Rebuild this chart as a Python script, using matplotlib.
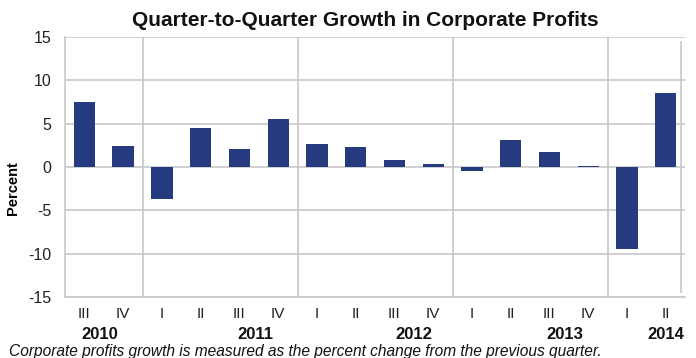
import matplotlib.pyplot as plt
import numpy as np

plt.rcParams['font.family'] = ['Liberation Sans', 'DejaVu Sans']
plt.rcParams['axes.unicode_minus'] = False

quarters = ['III', 'IV', 'I', 'II', 'III', 'IV', 'I', 'II', 'III', 'IV',
            'I', 'II', 'III', 'IV', 'I', 'II']
growth = [7.5, 2.4, -3.7, 4.5, 2.1, 5.5, 2.6, 2.3, 0.8, 0.35,
          -0.45, 3.1, 1.75, 0.15, -9.4, 8.5]
years = ['2010', '2011', '2012', '2013', '2014']
year_pos = [0.4, 4.4, 8.5, 12.4, 15.0]
year_breaks = [1.5, 5.5, 9.5, 13.5]

bar_color = '#263a80'
grid_color = '#c8c8c8'

fig = plt.figure(figsize=(6.96, 3.58), dpi=100)
ax = fig.add_axes([0.0934, 0.170, 0.891, 0.727])

x = np.arange(len(growth))
ax.bar(x, growth, width=0.55, color=bar_color, zorder=3)

ax.set_xlim(-0.5, 15.5)
ax.set_ylim(-15, 15)
ax.set_yticks(np.arange(-15, 16, 5))
ax.yaxis.grid(True, color=grid_color, linewidth=1.2, zorder=0)
for b in year_breaks:
    ax.axvline(b, color=grid_color, linewidth=1.2, zorder=1)

for s in ['top', 'right']:
    ax.spines[s].set_visible(False)
ax.spines['left'].set_color(grid_color)
ax.spines['bottom'].set_color(grid_color)
ax.spines['left'].set_linewidth(1.2)
ax.spines['bottom'].set_linewidth(1.2)
ax.axvline(15.4, ymin=0.02, ymax=0.98, color=grid_color, linewidth=1.2, zorder=1)

ax.set_xticks(x)
ax.set_xticklabels(quarters, fontsize=11, color='#222222')
ax.tick_params(axis='both', length=0, pad=7)
ax.tick_params(axis='y', labelsize=11.5, pad=10)
for lab in ax.get_yticklabels():
    lab.set_color('#222222')

for yr, p in zip(years, year_pos):
    ax.text(p, -0.142, yr, transform=ax.get_xaxis_transform(), ha='center',
            va='center', fontsize=12, fontweight='bold', color='#111111')

ax.set_ylabel('Percent', fontsize=10.5, fontweight='bold')
ax.yaxis.set_label_coords(-0.073, 0.42)

fig.text(0.525, 0.944, 'Quarter-to-Quarter Growth in Corporate Profits',
         ha='center', va='center', fontsize=15, fontweight='bold', color='#111111')
fig.text(0.013, 0.018,
         'Corporate profits growth is measured as the percent change from the previous quarter.',
         ha='left', va='center', fontsize=11.2, style='italic', color='#111111')

fig.savefig('out.png', dpi=100)
